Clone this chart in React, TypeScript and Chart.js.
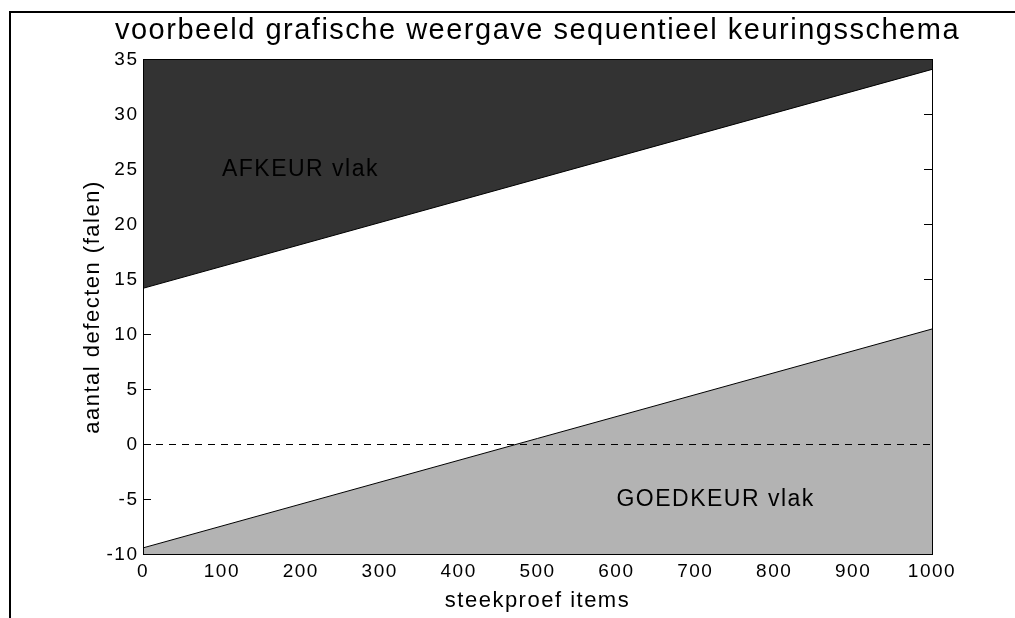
import { useEffect, useRef } from 'react';
import { Chart, registerables } from 'chart.js';

Chart.register(...registerables);

// ---- data ----
const sampleX = [0, 1000];
const rejectBoundary = [14.2, 34.1];
const acceptBoundary = [-9.4, 10.5];
const zeroLine = [0, 0];
const xLimits = [0, 1000];
const yLimits = [-10, 35];
const xStep = 100;
const yStep = 5;
const areaLabels = ['AFKEUR vlak', 'GOEDKEUR vlak'];
const areaLabelX = [100, 600];
const areaLabelY = [25, -5];
const titleText = 'voorbeeld grafische weergave sequentieel keuringsschema';
const xTitle = 'steekproef items';
const yTitle = 'aantal defecten (falen)';

const FONT = '"Liberation Sans", Arial, Helvetica, sans-serif';
const SPACING = '1.5px';

const toPoints = (ys: number[]) => sampleX.map((x, i) => ({ x, y: ys[i] }));

const spacingPlugin = {
  id: 'spacing',
  beforeUpdate(chart: any) {
    chart.ctx.letterSpacing = SPACING;
  },
  beforeDraw(chart: any) {
    chart.ctx.letterSpacing = SPACING;
  },
};

const tickPlugin = {
  id: 'innerTicks',
  beforeDatasetsDraw(chart: any) {
    const { ctx, chartArea: a, scales } = chart;
    const len = 8;
    ctx.save();
    ctx.strokeStyle = '#000';
    ctx.lineWidth = 1;
    ctx.beginPath();
    scales.y.ticks.forEach((t: any) => {
      const py = Math.floor(scales.y.getPixelForValue(t.value)) + 0.5;
      ctx.moveTo(a.left, py);
      ctx.lineTo(a.left + len, py);
      ctx.moveTo(a.right, py);
      ctx.lineTo(a.right - len, py);
    });
    scales.x.ticks.forEach((t: any) => {
      const px = Math.floor(scales.x.getPixelForValue(t.value)) + 0.5;
      ctx.moveTo(px, a.bottom);
      ctx.lineTo(px, a.bottom - len);
      ctx.moveTo(px, a.top);
      ctx.lineTo(px, a.top + len);
    });
    ctx.stroke();
    ctx.restore();
  },
};

const overlayPlugin = {
  id: 'overlay',
  afterDatasetsDraw(chart: any) {
    const { ctx, chartArea: a, scales } = chart;
    ctx.save();
    ctx.letterSpacing = SPACING;
    ctx.font = `23px ${FONT}`;
    ctx.fillStyle = '#000';
    ctx.textAlign = 'left';
    ctx.textBaseline = 'middle';
    areaLabels.forEach((txt, i) => {
      ctx.fillText(
        txt,
        scales.x.getPixelForValue(areaLabelX[i]),
        scales.y.getPixelForValue(areaLabelY[i])
      );
    });
    ctx.strokeStyle = '#000';
    ctx.lineWidth = 1;
    const l = Math.floor(a.left) + 0.5;
    const t = Math.floor(a.top) + 0.5;
    const r = Math.floor(a.right) + 0.5;
    const b = Math.floor(a.bottom) + 0.5;
    ctx.strokeRect(l, t, r - l, b - t);
    ctx.restore();
  },
  afterDraw(chart: any) {
    const { ctx, width, height, chartArea: a } = chart;
    ctx.save();
    ctx.letterSpacing = SPACING;
    ctx.font = `29px ${FONT}`;
    ctx.fillStyle = '#000';
    ctx.textAlign = 'center';
    ctx.textBaseline = 'middle';
    ctx.fillText(titleText, (a.left + a.right) / 2, 31);
    ctx.strokeStyle = '#000';
    ctx.lineWidth = 2;
    ctx.beginPath();
    ctx.moveTo(width, 12);
    ctx.lineTo(10, 12);
    ctx.lineTo(10, height);
    ctx.stroke();
    ctx.restore();
  },
};

export default function App() {
  const ref = useRef<HTMLCanvasElement>(null);

  useEffect(() => {
    const canvas = ref.current;
    if (!canvas) return;
    const chart = new Chart(canvas, {
      type: 'line',
      data: {
        datasets: [
          {
            data: toPoints(zeroLine),
            borderColor: '#000',
            borderWidth: 1,
            borderDash: [7, 6],
            pointRadius: 0,
            fill: false,
          },
          {
            data: toPoints(rejectBoundary),
            borderColor: '#000',
            borderWidth: 1,
            backgroundColor: '#333333',
            pointRadius: 0,
            fill: 'end',
          },
          {
            data: toPoints(acceptBoundary),
            borderColor: '#000',
            borderWidth: 1,
            backgroundColor: '#b3b3b3',
            pointRadius: 0,
            fill: 'start',
          },
        ],
      },
      options: {
        animation: false,
        responsive: true,
        maintainAspectRatio: false,
        layout: { padding: { left: 0, right: 83, top: 59.5, bottom: 0 } },
        plugins: {
          legend: { display: false },
          tooltip: { enabled: false },
          title: { display: false },
        },
        scales: {
          x: {
            type: 'linear',
            min: xLimits[0],
            max: xLimits[1],
            afterFit: (s: any) => {
              s.height = 63.5;
            },
            grid: { display: false, drawTicks: false },
            border: { display: false },
            ticks: {
              stepSize: xStep,
              padding: 6,
              color: '#000',
              maxRotation: 0,
              autoSkip: false,
              font: { family: FONT, size: 19 },
              callback: (v: any) => `${v}`,
            },
            title: {
              display: true,
              text: xTitle,
              color: '#000',
              font: { family: FONT, size: 22 },
              padding: { top: 0, bottom: 3.8 },
            },
          },
          y: {
            type: 'linear',
            min: yLimits[0],
            max: yLimits[1],
            afterFit: (s: any) => {
              s.width = 143;
            },
            grid: { display: false, drawTicks: false },
            border: { display: false },
            ticks: {
              stepSize: yStep,
              padding: 4.5,
              color: '#000',
              autoSkip: false,
              font: { family: FONT, size: 19 },
              callback: (v: any) => `${v}`,
            },
            title: {
              display: true,
              text: yTitle,
              color: '#000',
              font: { family: FONT, size: 22 },
              padding: { top: 79.8, bottom: 0 },
            },
          },
        },
      },
      plugins: [spacingPlugin, tickPlugin, overlayPlugin],
    });
    return () => chart.destroy();
  }, []);

  return (
    <div
      style={{
        position: 'fixed',
        left: 0,
        top: 0,
        width: '1015px',
        height: '618px',
        background: '#fff',
      }}
    >
      <canvas ref={ref} />
    </div>
  );
}
